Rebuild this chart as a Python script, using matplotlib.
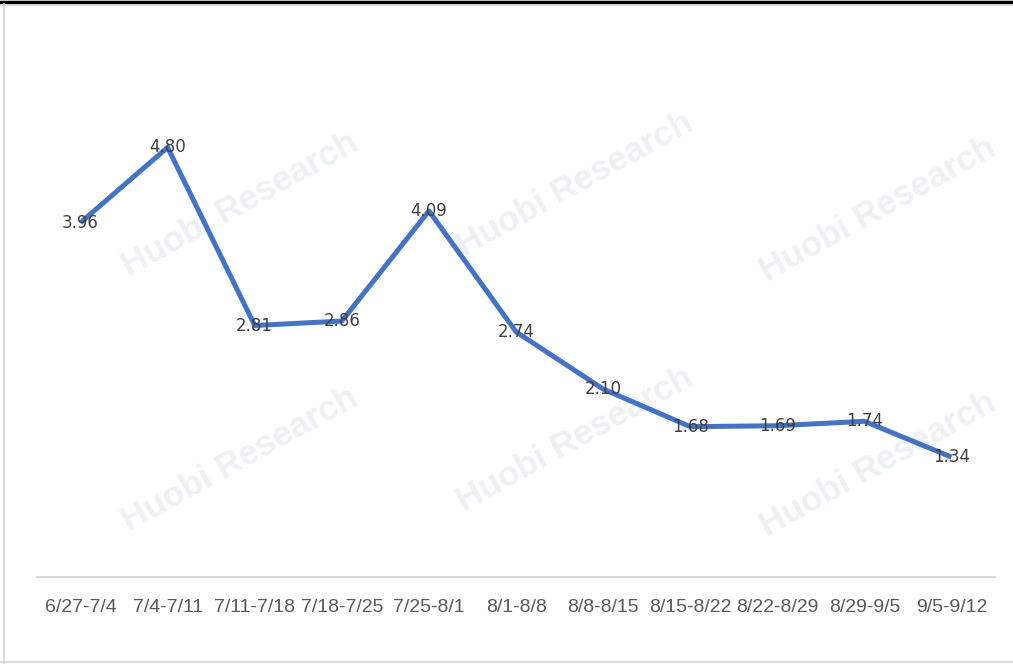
import matplotlib
matplotlib.use("Agg")
from matplotlib import pyplot as plt

weeks = ["6/27-7/4", "7/4-7/11", "7/11-7/18", "7/18-7/25", "7/25-8/1", "8/1-8/8",
         "8/8-8/15", "8/15-8/22", "8/22-8/29", "8/29-9/5", "9/5-9/12"]
values = [3.96, 4.80, 2.81, 2.86, 4.09, 2.74, 2.10, 1.68, 1.69, 1.74, 1.34]

fig = plt.figure(figsize=(10.13, 6.64), dpi=100)
ax = fig.add_axes([37 / 1013, 87 / 664, 958 / 1013, 537 / 664])
ax.set_zorder(2)  # 折线画在水印上面

# 水印
for wx, wy in [(240, 205), (575, 185), (878, 210), (240, 460), (575, 440), (878, 465)]:
    fig.text(wx / 1013, 1 - wy / 664, "Huobi Research", fontsize=25, color="#eef1f4",
             rotation=29, ha="center", va="center", family="Liberation Sans",
             fontweight="bold", zorder=0)

xs = range(len(weeks))
ax.plot(xs, values, color="#4472C4", linewidth=3.6, solid_capstyle="butt", zorder=3)
for x, v in zip(xs, values):
    ax.text(x, v, f"{v:.2f}", ha="center", va="center", fontsize=12, color="#404040",
            family="DejaVu Sans", zorder=4)

ax.set_xlim(-0.5, len(weeks) - 0.5)
ax.set_ylim(0, 6)
ax.set_xticks(list(xs))
ax.set_xticklabels(weeks, fontsize=14, color="#595959", family="Liberation Sans")
ax.tick_params(axis="x", length=0, pad=16)
ax.set_yticks([])
for s in ["top", "left", "right"]:
    ax.spines[s].set_visible(False)
ax.spines["bottom"].set_color("#d9d9d9")
ax.spines["bottom"].set_linewidth(1.5)
ax.patch.set_alpha(0)

# 截图边框
fig.add_artist(plt.Line2D([0, 1], [1 - 1.5 / 664, 1 - 1.5 / 664], color="black", linewidth=2.5))
fig.add_artist(plt.Line2D([0, 1], [1 - 4.5 / 664, 1 - 4.5 / 664], color="#d4d4d4", linewidth=1.2))
fig.add_artist(plt.Line2D([4 / 1013, 4 / 1013], [0, 1 - 4 / 664], color="#d4d4d4", linewidth=1.2))
fig.add_artist(plt.Line2D([0, 1], [2 / 664, 2 / 664], color="#d4d4d4", linewidth=1.2))

fig.savefig("out.png", dpi=100)
